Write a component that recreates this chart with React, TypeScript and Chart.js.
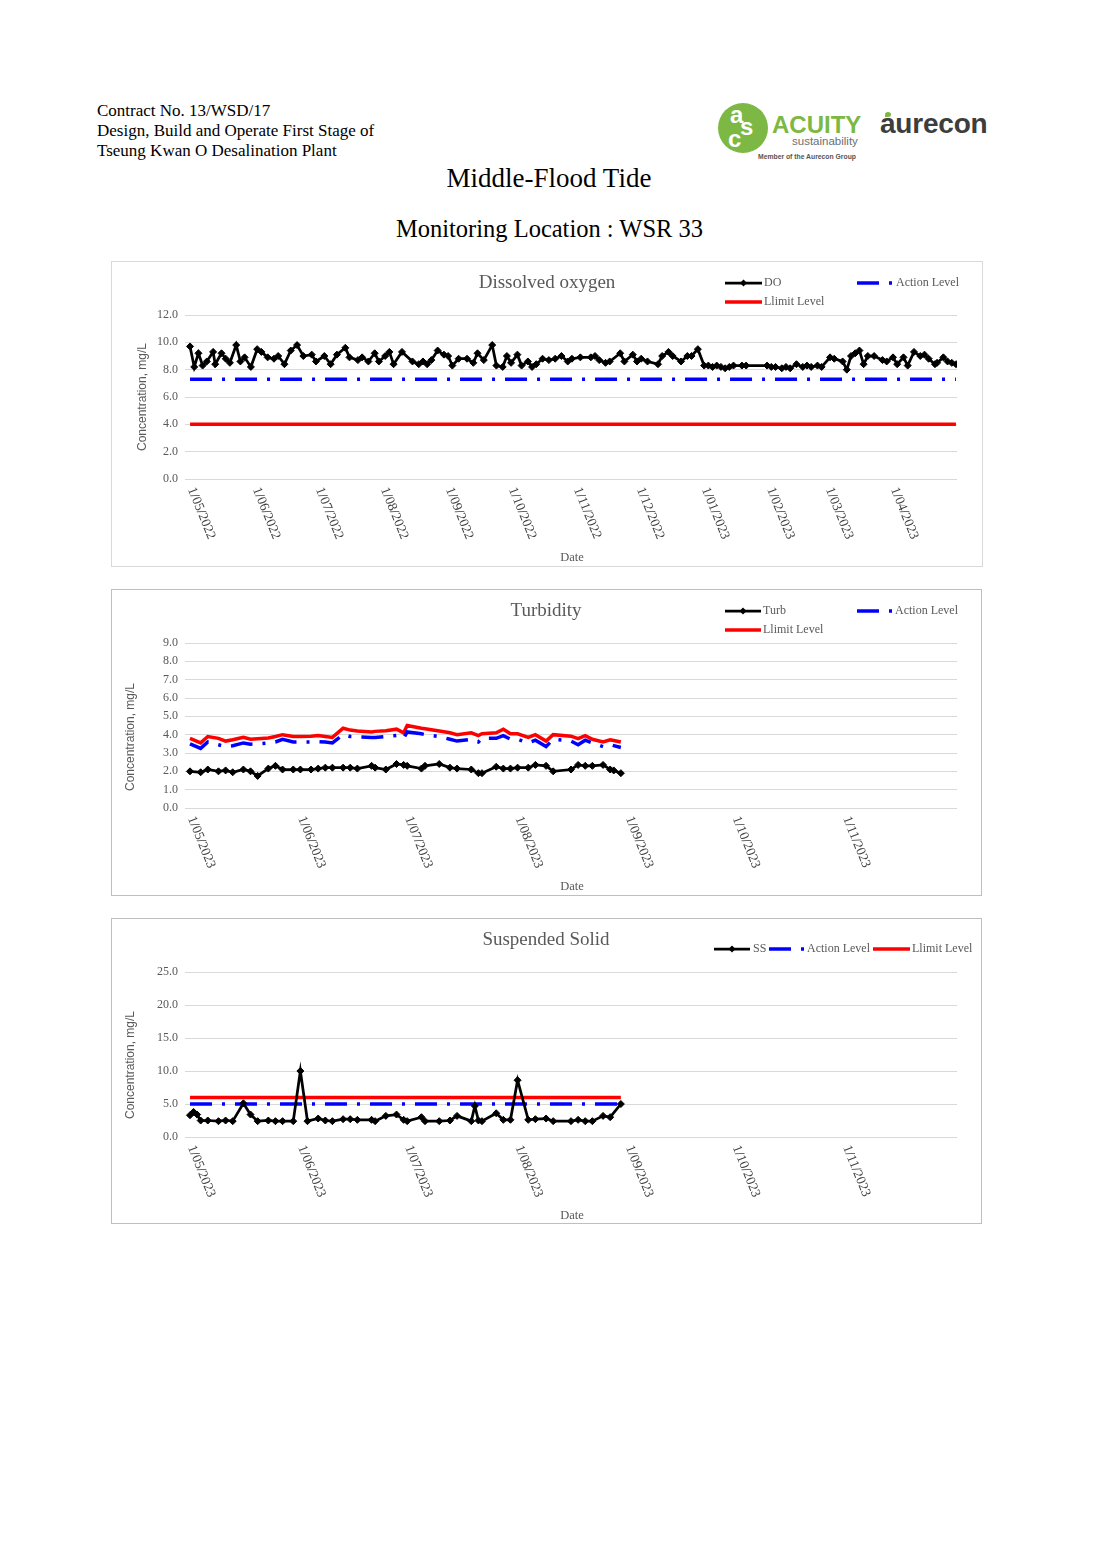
import React, { useEffect, useRef } from 'react';
import { Chart, registerables } from 'chart.js';

Chart.register(...registerables);

const SERIF = '"Liberation Serif", "DejaVu Serif", serif';
const SANS = '"Liberation Sans", Arial, sans-serif';
const GREY = '#595959';

// ---------- Chart 1: Dissolved oxygen ----------
const doDates = [
  '2022-05-01', '2022-05-03', '2022-05-05', '2022-05-07', '2022-05-09', '2022-05-12', '2022-05-13', '2022-05-16',
  '2022-05-18', '2022-05-20', '2022-05-23', '2022-05-25', '2022-05-27', '2022-05-30', '2022-06-02', '2022-06-04',
  '2022-06-07', '2022-06-10', '2022-06-12', '2022-06-15', '2022-06-18', '2022-06-21', '2022-06-24', '2022-06-28',
  '2022-06-30', '2022-07-04', '2022-07-07', '2022-07-10', '2022-07-14', '2022-07-16', '2022-07-20', '2022-07-22',
  '2022-07-25', '2022-07-28', '2022-07-30', '2022-08-02', '2022-08-04', '2022-08-06', '2022-08-10', '2022-08-15',
  '2022-08-18', '2022-08-20', '2022-08-22', '2022-08-24', '2022-08-27', '2022-08-30', '2022-09-01', '2022-09-03',
  '2022-09-06', '2022-09-10', '2022-09-13', '2022-09-15', '2022-09-18', '2022-09-22', '2022-09-24', '2022-09-27',
  '2022-09-29', '2022-10-01', '2022-10-04', '2022-10-06', '2022-10-09', '2022-10-11', '2022-10-13', '2022-10-16',
  '2022-10-19', '2022-10-22', '2022-10-25', '2022-10-28', '2022-10-30', '2022-11-03', '2022-11-08', '2022-11-10',
  '2022-11-12', '2022-11-15', '2022-11-17', '2022-11-22', '2022-11-24', '2022-11-28', '2022-11-30', '2022-12-02',
  '2022-12-05', '2022-12-10', '2022-12-12', '2022-12-15', '2022-12-17', '2022-12-21', '2022-12-24', '2022-12-26',
  '2022-12-29', '2023-01-01', '2023-01-03', '2023-01-05', '2023-01-07', '2023-01-09', '2023-01-11', '2023-01-13',
  '2023-01-15', '2023-01-19', '2023-01-21', '2023-01-31', '2023-02-02', '2023-02-04', '2023-02-07', '2023-02-09',
  '2023-02-11', '2023-02-14', '2023-02-17', '2023-02-19', '2023-02-21', '2023-02-24', '2023-02-26', '2023-03-02',
  '2023-03-04', '2023-03-08', '2023-03-10', '2023-03-12', '2023-03-14', '2023-03-16', '2023-03-18', '2023-03-20',
  '2023-03-23', '2023-03-27', '2023-03-29', '2023-04-01', '2023-04-03', '2023-04-06', '2023-04-08', '2023-04-11',
  '2023-04-14', '2023-04-16', '2023-04-18', '2023-04-21', '2023-04-22', '2023-04-25', '2023-04-27', '2023-04-29',
  '2023-05-01',
];
const doValues = [
  9.7, 8.2, 9.2, 8.3, 8.6, 9.3, 8.4, 9.2,
  8.8, 8.5, 9.8, 8.6, 8.9, 8.2, 9.5, 9.3,
  8.9, 8.8, 9.0, 8.4, 9.4, 9.8, 9.0, 9.1,
  8.6, 9.0, 8.4, 9.1, 9.6, 8.9, 8.7, 8.9,
  8.6, 9.2, 8.6, 9.0, 9.3, 8.4, 9.3, 8.6,
  8.4, 8.6, 8.4, 8.7, 9.4, 9.1, 9.0, 8.3,
  8.8, 8.8, 8.5, 9.2, 8.7, 9.8, 8.3, 8.2,
  9.0, 8.5, 9.1, 8.3, 8.6, 8.2, 8.4, 8.8,
  8.7, 8.8, 9.0, 8.6, 8.8, 8.9, 8.9, 9.0,
  8.7, 8.5, 8.6, 9.2, 8.6, 9.1, 8.6, 8.8,
  8.6, 8.4, 9.0, 9.3, 9.0, 8.6, 9.0, 9.0,
  9.5, 8.3, 8.3, 8.2, 8.3, 8.2, 8.1, 8.2,
  8.3, 8.3, 8.3, 8.3, 8.2, 8.2, 8.1, 8.2,
  8.1, 8.4, 8.2, 8.3, 8.2, 8.3, 8.2, 8.9,
  8.8, 8.6, 8.0, 9.0, 9.2, 9.4, 8.4, 9.0,
  9.0, 8.7, 8.6, 8.9, 8.4, 8.9, 8.3, 9.3,
  9.0, 9.1, 8.8, 8.4, 8.5, 8.9, 8.6, 8.5,
  8.4,
];
const doLevelDates = ['2022-05-01', '2023-05-01'];
const doActionLevel = [7.3, 7.3];
const doLimitLevel = [4.0, 4.0];
const doTickLabels = [
  '1/05/2022', '1/06/2022', '1/07/2022', '1/08/2022', '1/09/2022', '1/10/2022',
  '1/11/2022', '1/12/2022', '1/01/2023', '1/02/2023', '1/03/2023', '1/04/2023',
];

// ---------- Chart 2: Turbidity ----------
const turbDates = [
  '2023-05-01', '2023-05-04', '2023-05-06', '2023-05-09', '2023-05-11', '2023-05-13', '2023-05-16', '2023-05-18',
  '2023-05-20', '2023-05-23', '2023-05-25', '2023-05-27', '2023-05-30', '2023-06-01', '2023-06-04', '2023-06-06',
  '2023-06-08', '2023-06-10', '2023-06-13', '2023-06-15', '2023-06-17', '2023-06-21', '2023-06-22', '2023-06-25',
  '2023-06-28', '2023-06-30', '2023-07-01', '2023-07-05', '2023-07-06', '2023-07-10', '2023-07-13', '2023-07-15',
  '2023-07-19', '2023-07-21', '2023-07-22', '2023-07-26', '2023-07-28', '2023-07-30', '2023-08-01', '2023-08-04',
  '2023-08-06', '2023-08-09', '2023-08-11', '2023-08-16', '2023-08-18', '2023-08-20', '2023-08-22', '2023-08-25',
  '2023-08-27', '2023-08-28', '2023-08-30',
];
const turbValues = [
  2.0, 1.95, 2.1, 2.0, 2.05, 1.95, 2.1, 2.0,
  1.75, 2.15, 2.3, 2.1, 2.1, 2.1, 2.1, 2.15,
  2.2, 2.2, 2.2, 2.2, 2.15, 2.3, 2.2, 2.1,
  2.4, 2.35, 2.3, 2.15, 2.3, 2.4, 2.2, 2.15,
  2.1, 1.9, 1.9, 2.25, 2.15, 2.15, 2.2, 2.2,
  2.35, 2.3, 2.0, 2.1, 2.35, 2.3, 2.3, 2.35,
  2.1, 2.05, 1.9,
];
const turbAction = [
  3.5, 3.25, 3.6, 3.45, 3.35, 3.4, 3.55, 3.48,
  3.5, 3.55, 3.6, 3.75, 3.6, 3.6, 3.6, 3.62,
  3.6, 3.55, 4.0, 3.9, 3.88, 3.85, 3.85, 3.9,
  3.95, 3.8, 4.15, 4.05, 4.0, 3.9, 3.75, 3.65,
  3.75, 3.6, 3.8, 3.8, 3.95, 3.75, 3.75, 3.55,
  3.7, 3.35, 3.75, 3.65, 3.45, 3.7, 3.55, 3.35,
  3.45, 3.4, 3.3,
];
const turbLimit = [
  3.8, 3.55, 3.9, 3.8, 3.65, 3.72, 3.85, 3.75,
  3.78, 3.82, 3.9, 4.0, 3.9, 3.9, 3.92, 3.95,
  3.9, 3.85, 4.35, 4.25, 4.2, 4.15, 4.18, 4.22,
  4.3, 4.1, 4.5, 4.35, 4.32, 4.2, 4.1, 4.0,
  4.1, 3.95, 4.05, 4.1, 4.3, 4.05, 4.05, 3.85,
  4.0, 3.65, 4.0, 3.92, 3.78, 3.95, 3.75, 3.6,
  3.72, 3.68, 3.6,
];
const turbTickLabels = ['1/05/2023', '1/06/2023', '1/07/2023', '1/08/2023', '1/09/2023', '1/10/2023', '1/11/2023'];

// ---------- Chart 3: Suspended Solid ----------
const ssDates = [
  '2023-05-01', '2023-05-02', '2023-05-03', '2023-05-04', '2023-05-06', '2023-05-09', '2023-05-11', '2023-05-13',
  '2023-05-16', '2023-05-18', '2023-05-20', '2023-05-23', '2023-05-25', '2023-05-27', '2023-05-30', '2023-06-01',
  '2023-06-03', '2023-06-06', '2023-06-08', '2023-06-10', '2023-06-13', '2023-06-15', '2023-06-17', '2023-06-21',
  '2023-06-22', '2023-06-25', '2023-06-28', '2023-06-30', '2023-07-01', '2023-07-05', '2023-07-06', '2023-07-10',
  '2023-07-13', '2023-07-15', '2023-07-19', '2023-07-20', '2023-07-21', '2023-07-22', '2023-07-26', '2023-07-28',
  '2023-07-30', '2023-08-01', '2023-08-04', '2023-08-06', '2023-08-09', '2023-08-11', '2023-08-16', '2023-08-18',
  '2023-08-20', '2023-08-22', '2023-08-25', '2023-08-27', '2023-08-30',
];
const ssValues = [
  3.3, 3.8, 3.4, 2.5, 2.5, 2.4, 2.5, 2.4,
  5.1, 3.4, 2.4, 2.5, 2.4, 2.4, 2.4, 10.0,
  2.4, 2.8, 2.5, 2.4, 2.7, 2.7, 2.6, 2.6,
  2.4, 3.2, 3.4, 2.6, 2.4, 3.0, 2.4, 2.4,
  2.5, 3.2, 2.4, 4.7, 2.5, 2.4, 3.6, 2.6,
  2.6, 8.6, 2.6, 2.7, 2.8, 2.4, 2.4, 2.6,
  2.4, 2.4, 3.2, 3.0, 5.0,
];
const ssLevelDates = ['2023-05-01', '2023-08-30'];
const ssAction = [5.0, 5.0];
const ssLimit = [6.0, 6.0];
const ssTickLabels = ['1/05/2023', '1/06/2023', '1/07/2023', '1/08/2023', '1/09/2023', '1/10/2023', '1/11/2023'];

// ---------- helpers ----------
const dayOfIso = (s: string) => {
  const [y, m, d] = s.split('-').map(Number);
  return Date.UTC(y, m - 1, d) / 864e5;
};
const dayOfLabel = (s: string) => {
  const [d, m, y] = s.split('/').map(Number);
  return Date.UTC(y, m - 1, d) / 864e5;
};

type Kind = 'data' | 'action' | 'limit';
interface Series { label: string; kind: Kind; dates: string[]; values: number[] }
interface LegendItem { ds: number; x1: number; x2: number; y: number; tx: number }
interface Spec {
  width: number; height: number;
  series: Series[];
  yMax: number; yStep: number;
  xMin: number; xMax: number;
  tickLabels: string[];
  title: string; titleX: number; titleY: number;
  legend: LegendItem[];
  yTitleX: number; yTitleY: number;
  dateX: number; dateY: number;
}

const styleFor = (kind: Kind) => {
  if (kind === 'data') {
    return {
      borderColor: '#000000', backgroundColor: '#000000', borderWidth: 2.75,
      pointStyle: 'rectRot', pointRadius: 3.5, pointBackgroundColor: '#000000',
      pointBorderColor: '#000000', pointBorderWidth: 1, order: 0, borderDash: [] as number[],
    };
  }
  if (kind === 'action') {
    return {
      borderColor: '#0000ff', backgroundColor: '#0000ff', borderWidth: 3.5,
      pointRadius: 0, order: 1, borderDash: [22, 10, 3, 10],
    };
  }
  return {
    borderColor: '#ff0000', backgroundColor: '#ff0000', borderWidth: 3.5,
    pointRadius: 0, order: 2, borderDash: [] as number[],
  };
};

function LineBox({ spec, left, top, boxW, boxH, borderColor }: { spec: Spec; left: number; top: number; boxW: number; boxH: number; borderColor: string }) {
  const ref = useRef<HTMLCanvasElement | null>(null);
  useEffect(() => {
    const canvas = ref.current;
    if (!canvas) return;
    const datasets = spec.series.map((s) => ({
      label: s.label,
      data: s.dates.map((d, i) => ({ x: dayOfIso(d), y: s.values[i] })),
      tension: 0,
      fill: false,
      ...styleFor(s.kind),
    }));
    const overlay = {
      id: 'overlay',
      afterDraw(chart: any) {
        const ctx = chart.ctx as CanvasRenderingContext2D;
        const area = chart.chartArea;
        const xs = chart.scales.x;
        ctx.save();
        // x tick labels, rotated clockwise
        ctx.fillStyle = '#404040';
        ctx.font = `13.5px ${SERIF}`;
        ctx.textAlign = 'left';
        ctx.textBaseline = 'middle';
        spec.tickLabels.forEach((lab) => {
          const px = xs.getPixelForValue(dayOfLabel(lab));
          ctx.save();
          ctx.translate(px + 1, area.bottom + 9);
          ctx.rotate((68 * Math.PI) / 180);
          ctx.fillText(lab, 0, 0);
          ctx.restore();
        });
        ctx.fillStyle = GREY;
        // title
        ctx.font = `19px ${SERIF}`;
        ctx.textAlign = 'center';
        ctx.fillText(spec.title, spec.titleX, spec.titleY);
        // axis titles
        ctx.font = `12.5px ${SERIF}`;
        ctx.fillText('Date', spec.dateX, spec.dateY);
        ctx.save();
        ctx.translate(spec.yTitleX, spec.yTitleY);
        ctx.rotate(-Math.PI / 2);
        ctx.font = `12px ${SANS}`;
        ctx.fillText('Concentration, mg/L', 0, 0);
        ctx.restore();
        // legend
        spec.legend.forEach((it) => {
          const ds = chart.data.datasets[it.ds];
          ctx.save();
          ctx.strokeStyle = ds.borderColor;
          ctx.lineWidth = ds.borderWidth;
          ctx.setLineDash(ds.borderDash || []);
          ctx.beginPath();
          ctx.moveTo(it.x1, it.y);
          ctx.lineTo(it.x2, it.y);
          ctx.stroke();
          ctx.setLineDash([]);
          if (ds.pointRadius > 0) {
            const cx = (it.x1 + it.x2) / 2;
            const r = ds.pointRadius;
            ctx.fillStyle = ds.pointBackgroundColor;
            ctx.beginPath();
            ctx.moveTo(cx, it.y - r);
            ctx.lineTo(cx + r, it.y);
            ctx.lineTo(cx, it.y + r);
            ctx.lineTo(cx - r, it.y);
            ctx.closePath();
            ctx.fill();
          }
          ctx.restore();
          ctx.fillStyle = GREY;
          ctx.font = `12px ${SERIF}`;
          ctx.textAlign = 'left';
          ctx.textBaseline = 'middle';
          ctx.fillText(ds.label, it.tx, it.y);
        });
        ctx.restore();
      },
    };
    const chart = new Chart(canvas, {
      type: 'line',
      data: { datasets } as any,
      options: {
        responsive: false,
        animation: false,
        devicePixelRatio: 1,
        layout: { padding: { top: 53, right: spec.width - 73 - 772, left: 0, bottom: 0 } },
        plugins: { legend: { display: false }, title: { display: false }, tooltip: { enabled: false } },
        scales: {
          x: {
            type: 'linear',
            min: spec.xMin,
            max: spec.xMax,
            ticks: { display: false },
            grid: { display: false },
            border: { display: false },
            afterFit: (s: any) => { s.height = 87; },
          },
          y: {
            min: 0,
            max: spec.yMax,
            ticks: {
              stepSize: spec.yStep,
              color: GREY,
              padding: 7,
              font: { family: SERIF, size: 12 },
              callback: (v: any) => Number(v).toFixed(1),
            },
            grid: { color: '#d9d9d9', lineWidth: 1, drawTicks: false },
            border: { display: false },
            afterFit: (s: any) => { s.width = 73; },
          },
        },
      } as any,
      plugins: [overlay],
    });
    return () => chart.destroy();
  }, [spec]);
  return (
    <div style={{ position: 'absolute', left, top, width: boxW, height: boxH, border: `1px solid ${borderColor}`, boxSizing: 'border-box', background: '#fff' }}>
      <canvas ref={ref} width={spec.width} height={spec.height} style={{ display: 'block', width: spec.width, height: spec.height }} />
    </div>
  );
}

const doSpec: Spec = {
  width: 870, height: 304,
  series: [
    { label: 'DO', kind: 'data', dates: doDates, values: doValues },
    { label: 'Action Level', kind: 'action', dates: doLevelDates, values: doActionLevel },
    { label: 'Llimit Level', kind: 'limit', dates: doLevelDates, values: doLimitLevel },
  ],
  yMax: 12, yStep: 2,
  xMin: dayOfIso('2022-05-01') - 2.4, xMax: dayOfIso('2023-05-01') + 0.5,
  tickLabels: doTickLabels,
  title: 'Dissolved oxygen', titleX: 435, titleY: 21,
  legend: [
    { ds: 0, x1: 613, x2: 650, y: 21, tx: 652 },
    { ds: 1, x1: 745, x2: 781, y: 21, tx: 784 },
    { ds: 2, x1: 613, x2: 650, y: 40, tx: 652 },
  ],
  yTitleX: 31, yTitleY: 135,
  dateX: 460, dateY: 296,
};

const turbSpec: Spec = {
  width: 869, height: 305,
  series: [
    { label: 'Turb', kind: 'data', dates: turbDates, values: turbValues },
    { label: 'Action Level', kind: 'action', dates: turbDates, values: turbAction },
    { label: 'Llimit Level', kind: 'limit', dates: turbDates, values: turbLimit },
  ],
  yMax: 9, yStep: 1,
  xMin: dayOfIso('2023-05-01') - 1.4, xMax: dayOfIso('2023-05-01') + 215.4,
  tickLabels: turbTickLabels,
  title: 'Turbidity', titleX: 434, titleY: 21,
  legend: [
    { ds: 0, x1: 613, x2: 649, y: 21, tx: 651 },
    { ds: 1, x1: 745, x2: 781, y: 21, tx: 783 },
    { ds: 2, x1: 613, x2: 649, y: 40, tx: 651 },
  ],
  yTitleX: 19, yTitleY: 147,
  dateX: 460, dateY: 297,
};

const ssSpec: Spec = {
  width: 869, height: 305,
  series: [
    { label: 'SS', kind: 'data', dates: ssDates, values: ssValues },
    { label: 'Action Level', kind: 'action', dates: ssLevelDates, values: ssAction },
    { label: 'Llimit Level', kind: 'limit', dates: ssLevelDates, values: ssLimit },
  ],
  yMax: 25, yStep: 5,
  xMin: dayOfIso('2023-05-01') - 1.4, xMax: dayOfIso('2023-05-01') + 215.4,
  tickLabels: ssTickLabels,
  title: 'Suspended Solid', titleX: 434, titleY: 21,
  legend: [
    { ds: 0, x1: 602, x2: 638, y: 30, tx: 641 },
    { ds: 1, x1: 657, x2: 693, y: 30, tx: 695 },
    { ds: 2, x1: 761, x2: 798, y: 30, tx: 800 },
  ],
  yTitleX: 19, yTitleY: 146,
  dateX: 460, dateY: 297,
};

export default function App() {
  return (
    <div style={{ position: 'absolute', left: 0, top: 0, width: 1103, height: 1559, background: '#fff', overflow: 'hidden' }}>
      <div style={{ position: 'absolute', left: 97, top: 101, fontFamily: SERIF, fontSize: 17, lineHeight: '20px', color: '#000', whiteSpace: 'nowrap' }}>
        <div>Contract No. 13/WSD/17</div>
        <div>Design, Build and Operate First Stage of</div>
        <div>Tseung Kwan O Desalination Plant</div>
      </div>
      {/* Acuity logo */}
      <div style={{ position: 'absolute', left: 718, top: 103, width: 50, height: 50, borderRadius: '50%', background: '#7cb843' }}>
        <span style={{ position: 'absolute', left: 12, top: -2, fontFamily: SANS, fontWeight: 700, fontSize: 24, color: '#fff' }}>a</span>
        <span style={{ position: 'absolute', left: 22, top: 10, fontFamily: SANS, fontWeight: 700, fontSize: 24, color: '#fff' }}>s</span>
        <span style={{ position: 'absolute', left: 10, top: 22, fontFamily: SANS, fontWeight: 700, fontSize: 24, color: '#fff' }}>c</span>
      </div>
      <div style={{ position: 'absolute', left: 772, top: 111, fontFamily: SANS, fontWeight: 700, fontSize: 24, lineHeight: '28px', color: '#7cb843', whiteSpace: 'nowrap' }}>ACUITY</div>
      <div style={{ position: 'absolute', left: 792, top: 134, fontFamily: SANS, fontSize: 11.5, lineHeight: '14px', color: '#6d6e71', whiteSpace: 'nowrap' }}>sustainability</div>
      <div style={{ position: 'absolute', left: 758, top: 152, fontFamily: SANS, fontWeight: 700, fontSize: 6.8, lineHeight: '9px', color: '#555', whiteSpace: 'nowrap' }}>Member of the Aurecon Group</div>
      {/* Aurecon logo */}
      <div style={{ position: 'absolute', left: 880, top: 107, fontFamily: SANS, fontWeight: 700, fontSize: 28, lineHeight: '34px', color: '#3d3d3d', whiteSpace: 'nowrap', letterSpacing: -0.2 }}>aurecon</div>
      <div style={{ position: 'absolute', left: 885, top: 112, width: 6, height: 5, borderRadius: '50% 50% 50% 0', background: '#7cb843' }} />
      {/* Titles */}
      <div style={{ position: 'absolute', left: 0, top: 163, width: 1098, textAlign: 'center', fontFamily: SERIF, fontSize: 27, lineHeight: '30px', color: '#000' }}>Middle-Flood Tide</div>
      <div style={{ position: 'absolute', left: 0, top: 214, width: 1099, textAlign: 'center', fontFamily: SERIF, fontSize: 24.5, lineHeight: '30px', color: '#000' }}>Monitoring Location : WSR 33</div>
      <LineBox spec={doSpec} left={111} top={261} boxW={872} boxH={306} borderColor="#d9d9d9" />
      <LineBox spec={turbSpec} left={111} top={589} boxW={871} boxH={307} borderColor="#bfbfbf" />
      <LineBox spec={ssSpec} left={111} top={918} boxW={871} boxH={306} borderColor="#bfbfbf" />
    </div>
  );
}
